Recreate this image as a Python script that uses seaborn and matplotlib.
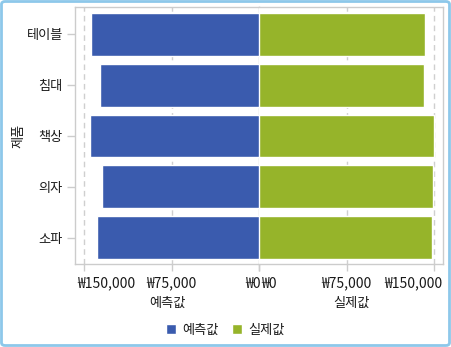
import matplotlib
matplotlib.use("Agg")
import matplotlib.pyplot as plt
import seaborn as sns
import pandas as pd
from matplotlib.patches import FancyBboxPatch, Patch
from matplotlib.ticker import FuncFormatter
from matplotlib.transforms import ScaledTranslation

categories = ["테이블", "침대", "책상", "의자", "소파"]
predicted = [144300, 136600, 145100, 134900, 139200]
actual = [142300, 141500, 149500, 148600, 148400]
series_names = ["예측값", "실제값"]
tick_values = [0, 75000, 150000]

sns.set_theme(style="white")
plt.rcParams["font.family"] = ["Noto Sans CJK KR", "DejaVu Sans"]

blue = "#3A5BAE"
green = "#96B42A"
grid_c = "#CFCFCF"
spine_c = "#CCCCCC"
txt_c = "#1A1A1A"
fs = 9.5
tfs = 10

df = pd.DataFrame({"제품": categories, "예측값": predicted, "실제값": actual})

W, H = 451, 347
fig = plt.figure(figsize=(W / 100, H / 100), dpi=100)

x0, xm, x1 = 75.3 / W, 259.3 / W, 443 / W
yb, yt = 1 - 264 / H, 1 - 7 / H
axL = fig.add_axes([x0, yb, xm - x0, yt - yb])
axR = fig.add_axes([xm, yb, x1 - xm, yt - yb])

sns.barplot(data=df, x="예측값", y="제품", orient="h", color=blue,
            saturation=1, width=0.84, ax=axL, zorder=3)
sns.barplot(data=df, x="실제값", y="제품", orient="h", color=green,
            saturation=1, width=0.84, ax=axR, zorder=3)

lim = 157600
axL.set_xlim(lim, 0)
axR.set_xlim(0, lim)
for ax in (axL, axR):
    ax.set_ylim(4.52, -0.54)
    ax.set_xticks(tick_values)
    ax.xaxis.set_major_formatter(FuncFormatter(lambda v, p: "₩{:,.0f}".format(v)))
    for v in tick_values[1:]:
        ax.axvline(v, color=grid_c, lw=1, ls=(0, (4, 3)), zorder=1)
    ax.tick_params(axis="x", direction="out", length=5, width=1, color=spine_c,
                   labelsize=tfs, pad=4, bottom=True, labelcolor=txt_c)
    for s in ax.spines.values():
        s.set_color(spine_c)
        s.set_linewidth(1)

axL.spines["right"].set_visible(True)
axR.spines["left"].set_visible(False)
axR.set_yticks([])
axR.set_ylabel("")
axL.tick_params(axis="y", direction="out", length=6, width=1, color=spine_c,
                labelsize=fs, pad=3, left=True, labelcolor=txt_c)
axL.set_ylabel("제품", fontsize=fs, color=txt_c)
axL.set_xlabel("예측값", fontsize=fs, color=txt_c)
axR.set_xlabel("실제값", fontsize=fs, color=txt_c)
axL.yaxis.set_label_coords(25 / W, 0.5 * (yb + yt), transform=fig.transFigure)
axL.xaxis.set_label_coords(0.5 * (x0 + xm), 1 - 297 / H, transform=fig.transFigure)
axR.xaxis.set_label_coords(0.5 * (xm + x1), 1 - 297 / H, transform=fig.transFigure)

fig.canvas.draw()
lt = axL.get_xticklabels()
rt = axR.get_xticklabels()
# zero labels hug the centre line
lt[0].set_horizontalalignment("right")
lt[0].set_transform(lt[0].get_transform() + ScaledTranslation(1 / 100, 0, fig.dpi_scale_trans))
rt[0].set_horizontalalignment("left")
rt[0].set_transform(rt[0].get_transform() + ScaledTranslation(1.5 / 100, 0, fig.dpi_scale_trans))
# outer labels kept inside the frame
lt[2].set_horizontalalignment("left")
lt[2].set_transform(lt[2].get_transform() + ScaledTranslation(-7 / 100, 0, fig.dpi_scale_trans))
rt[2].set_horizontalalignment("right")
rt[2].set_transform(rt[2].get_transform() + ScaledTranslation(8 / 100, 0, fig.dpi_scale_trans))

handles = [Patch(facecolor=blue, label=series_names[0]),
           Patch(facecolor=green, label=series_names[1])]
fig.legend(handles=handles, loc="center", bbox_to_anchor=(0.5, 1 - 330 / H),
           ncol=2, frameon=False, fontsize=fs, handlelength=0.75, handleheight=0.75,
           handletextpad=0.5, columnspacing=1.0, labelcolor=txt_c)

border = FancyBboxPatch((1.5 / W, 1.5 / H), 1 - 3 / W, 1 - 3 / H,
                        boxstyle="round,pad=0,rounding_size=0.008",
                        transform=fig.transFigure, fill=False,
                        edgecolor="#8DC8EA", linewidth=2)
fig.patches.append(border)

fig.savefig("out.png", dpi=100)
